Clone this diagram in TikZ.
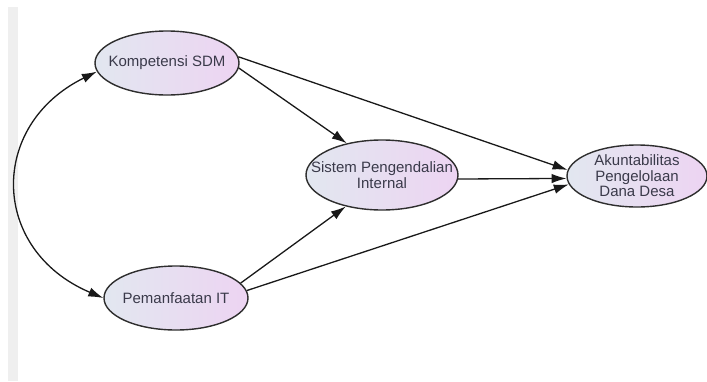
\documentclass[tikz,border=0pt]{standalone}
\usepackage{fontspec}
\setmainfont{Liberation Sans}
\usetikzlibrary{arrows.meta,shapes.geometric}
\definecolor{lbl}{HTML}{3A3A4A}
\definecolor{cL}{HTML}{E2E7F0}
\definecolor{cR}{HTML}{EDD4F2}
\definecolor{bord}{HTML}{2E2E2E}
\definecolor{strip}{HTML}{EFEFEF}
\tikzset{
  var/.style={ellipse, draw=bord, line width=1.4pt, left color=cL, right color=cR, inner sep=0pt},
  txt/.style={text=lbl, font=\fontsize{15}{15.5}\selectfont, align=center, inner sep=0pt},
  arr/.style={draw=black!90, line width=1.3pt, -{Latex[length=15pt,width=9.5pt]}},
  darr/.style={draw=black!90, line width=1.3pt, {Latex[length=15pt,width=9.5pt]}-{Latex[length=15pt,width=9.5pt]}}
}
\begin{document}
\begin{tikzpicture}[x=1pt,y=-1pt]
\useasboundingbox (0,0) rectangle (707,381);
\fill[strip] (8,7) rectangle (18,381);
\node[var, minimum width=144pt, minimum height=64pt] (kp) at (167,63) {};
\node[txt] (kpt) at (kp) {Kompetensi SDM};
\node[var, minimum width=144pt, minimum height=64pt] (pm) at (176,298) {};
\node[txt] (pmt) at (pm) {Pemanfaatan IT};
\node[var, minimum width=152pt, minimum height=70pt] (sp) at (382,175) {};
\node[txt] (spt) at (sp) {Sistem Pengendalian\\Internal};
\node[var, minimum width=140pt, minimum height=62pt] (ak) at (637,176) {};
\node[txt] (akt) at (ak) {Akuntabilitas\\Pengelolaan\\Dana Desa};
\draw[arr] (kp.5) -- (ak.175);
\draw[arr] (kp.-4) -- (sp.138);
\draw[arr] (sp.-3) -- (ak.182);
\draw[arr] (pm.13) -- (sp.221);
\draw[arr] (pm.6) -- (ak.187);
\draw[darr] (kp.187) .. controls (-12,125) and (-10,250) .. (pm.west);
\end{tikzpicture}
\end{document}
